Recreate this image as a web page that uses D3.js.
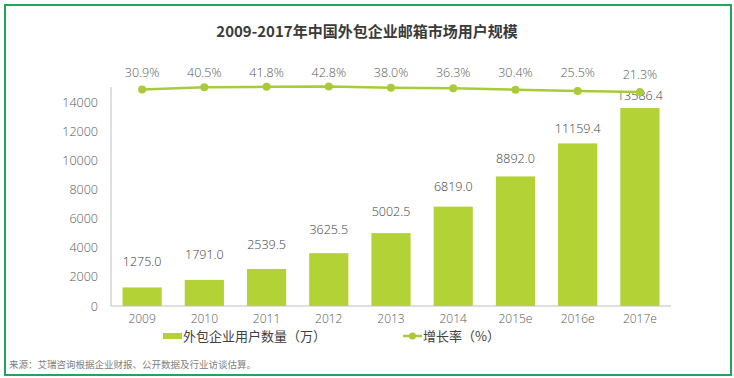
<!DOCTYPE html>
<html>
<head>
<meta charset="utf-8">
<script src="https://cdn.jsdelivr.net/npm/d3@7"></script>
<style>
  body { margin: 0; background: #fff; }
  svg { display: block; }
</style>
</head>
<body>
<div id="chart"></div>
<script>
////////// data //////////
const years = ["2009", "2010", "2011", "2012", "2013", "2014", "2015e", "2016e", "2017e"];
const users = [1275.0, 1791.0, 2539.5, 3625.5, 5002.5, 6819.0, 8892.0, 11159.4, 13586.4];
const growth = [30.9, 40.5, 41.8, 42.8, 38.0, 36.3, 30.4, 25.5, 21.3];
const yTicks = [0, 2000, 4000, 6000, 8000, 10000, 12000, 14000];

const width = 734;
const height = 378;
const numFont = "'Open Sans', 'Noto Sans CJK SC', sans-serif";
const cjkFont = "'Noto Sans CJK SC', sans-serif";
const barColor = "#b2d235";
const lineColor = "#a9cb3a";

const svg = d3.select("#chart").append("svg")
  .attr("width", width)
  .attr("height", height);

// green frame
svg.append("rect")
  .attr("x", 5).attr("y", 5)
  .attr("width", 726).attr("height", 370)
  .attr("fill", "none")
  .attr("stroke", "#1da85b")
  .attr("stroke-width", 2);

// title
svg.append("text")
  .attr("x", 367).attr("y", 37)
  .attr("text-anchor", "middle")
  .attr("font-family", cjkFont)
  .attr("font-weight", "bold")
  .attr("font-size", 15)
  .attr("fill", "#3a3a3a")
  .text("2009-2017年中国外包企业邮箱市场用户规模");

////////// scales //////////
const x = d3.scaleBand().domain(years).range([111, 671]).paddingInner(0.37).paddingOuter(0.185);
const y = d3.scaleLinear().domain([0, 14000]).range([306, 102]);
// growth line sits on its own compressed axis just above the bars
const y2 = d3.scaleLinear().domain([0, 100]).range([97.5, 72]);
// value labels float above the bars
const yLab = d3.scaleLinear().domain([0, 14000]).range([280, 91]);

// y axis
const yAxis = d3.axisLeft(y).tickValues(yTicks).tickFormat(d3.format("d")).tickSize(0).tickPadding(13);
const gy = svg.append("g").attr("transform", "translate(111,0)").call(yAxis);
gy.select(".domain").remove();
gy.selectAll("text")
  .attr("font-family", numFont)
  .attr("font-weight", 300)
  .attr("font-size", 12.5)
  .attr("fill", "#595959");
svg.append("line")
  .attr("x1", 111).attr("x2", 111)
  .attr("y1", 87).attr("y2", 306)
  .attr("stroke", "#bfbfbf");

// bars
svg.append("g").selectAll("rect")
  .data(years)
  .join("rect")
  .attr("x", d => x(d))
  .attr("y", (d, i) => y(users[i]))
  .attr("width", x.bandwidth())
  .attr("height", (d, i) => y(0) - y(users[i]))
  .attr("fill", barColor);

// x axis
const xAxis = d3.axisBottom(x).tickSize(0).tickPadding(8);
const gx = svg.append("g").attr("transform", "translate(0,306)").call(xAxis);
gx.select(".domain").attr("stroke", "#bfbfbf").attr("d", "M111,0H671");
gx.selectAll("text")
  .attr("font-family", numFont)
  .attr("font-weight", 300)
  .attr("font-size", 12)
  .attr("fill", "#595959");

// bar value labels
svg.append("g").selectAll("text")
  .data(years)
  .join("text")
  .attr("x", d => x(d) + x.bandwidth() / 2)
  .attr("y", (d, i) => yLab(users[i]) - 1)
  .attr("dy", "0.35em")
  .attr("text-anchor", "middle")
  .attr("font-family", numFont)
  .attr("font-weight", 300)
  .attr("font-size", 12.5)
  .attr("fill", "#404040")
  .text((d, i) => users[i].toFixed(1));

// growth line
const line = d3.line()
  .x((d, i) => x(years[i]) + x.bandwidth() / 2)
  .y(d => y2(d));
svg.append("path")
  .datum(growth)
  .attr("d", line)
  .attr("fill", "none")
  .attr("stroke", lineColor)
  .attr("stroke-width", 2.5);
svg.append("g").selectAll("circle")
  .data(growth)
  .join("circle")
  .attr("cx", (d, i) => x(years[i]) + x.bandwidth() / 2)
  .attr("cy", d => y2(d))
  .attr("r", 4)
  .attr("fill", lineColor);

// growth labels
svg.append("g").selectAll("text")
  .data(growth)
  .join("text")
  .attr("x", (d, i) => x(years[i]) + x.bandwidth() / 2)
  .attr("y", (d, i) => i === growth.length - 1 ? 75 : 73)
  .attr("dy", "0.35em")
  .attr("text-anchor", "middle")
  .attr("font-family", numFont)
  .attr("font-weight", 300)
  .attr("font-size", 12.5)
  .attr("fill", "#595959")
  .text(d => d.toFixed(1) + "%");

////////// legend //////////
const legend = svg.append("g").attr("font-family", cjkFont).attr("font-size", 13).attr("fill", "#404040");
legend.append("rect")
  .attr("x", 163).attr("y", 333)
  .attr("width", 19).attr("height", 6)
  .attr("fill", barColor);
legend.append("text")
  .attr("x", 183).attr("y", 336).attr("dy", "0.35em")
  .text("外包企业用户数量（万）");
legend.append("line")
  .attr("x1", 403).attr("x2", 422)
  .attr("y1", 336).attr("y2", 336)
  .attr("stroke", lineColor).attr("stroke-width", 2.5);
legend.append("circle")
  .attr("cx", 412.5).attr("cy", 336).attr("r", 3.5)
  .attr("fill", lineColor);
legend.append("text")
  .attr("x", 423).attr("y", 336).attr("dy", "0.35em")
  .text("增长率（%）");

// source
svg.append("text")
  .attr("x", 9).attr("y", 365)
  .attr("dy", "0.35em")
  .attr("font-family", cjkFont)
  .attr("font-size", 9.5)
  .attr("fill", "#808080")
  .text("来源：艾瑞咨询根据企业财报、公开数据及行业访谈估算。");
</script>
</body>
</html>
